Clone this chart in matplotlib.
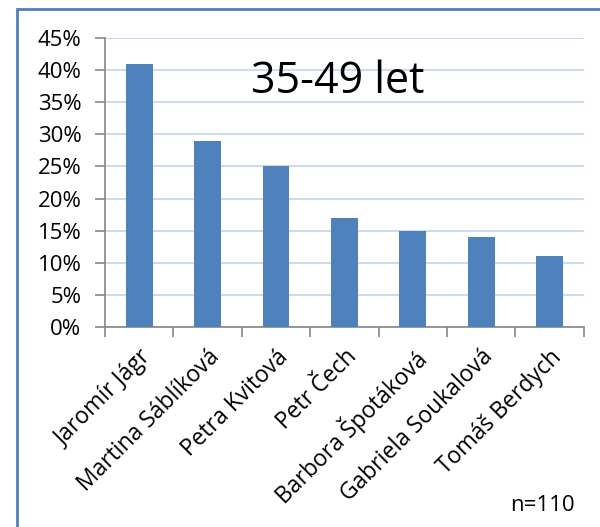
import numpy as np
import matplotlib.pyplot as plt
from matplotlib.patches import Rectangle

names = ["Jaromír Jágr", "Martina Sáblíková", "Petra Kvitová", "Petr Čech",
         "Barbora Špotáková", "Gabriela Soukalová", "Tomáš Berdych"]
pct = [41, 29, 25, 17, 15, 14, 11]
yticks = [0, 5, 10, 15, 20, 25, 30, 35, 40, 45]

plt.rcParams['font.family'] = ['Open Sans', 'DejaVu Sans']

fig = plt.figure(figsize=(6, 5.27), dpi=100)
ax = fig.add_axes([0.175, 0.3795, 0.798, 0.5485])

x = np.arange(len(names))
ax.bar(x, pct, width=0.39, color="#4f81bd", zorder=3)
ax.set_xlim(-0.5, len(names) - 0.5)
ax.set_ylim(0, 45)
ax.set_yticks(yticks)
ax.set_yticklabels([f"{v}%" for v in yticks], fontsize=16)
ax.yaxis.grid(True, color="#c6d9f1", linewidth=1.3, zorder=0)

# ticks on category boundaries, labels centred under bars
ax.set_xticks(np.arange(-0.5, len(names), 1.0))
ax.set_xticklabels([])
ax.set_xticks(x, minor=True)
ax.set_xticklabels(names, minor=True, rotation=45, ha="right",
                   rotation_mode="anchor", fontsize=16.5)
ax.tick_params(axis="x", which="minor", length=0, pad=13)
ax.tick_params(axis="x", which="major", length=7, color="#868686", width=1.2)
ax.tick_params(axis="y", length=7, color="#868686", width=1.2, pad=10)

for s in ["top", "right"]:
    ax.spines[s].set_visible(False)
for s in ["left", "bottom"]:
    ax.spines[s].set_color("#868686")
    ax.spines[s].set_linewidth(1.2)

fig.text(0.562, 0.845, "35-49 let", fontsize=31, ha="center", va="center")
fig.text(0.904, 0.04, "n=110", fontsize=16, ha="center", va="center")

fig.patches.append(Rectangle((17 / 600, -0.1), 1.2, 1 - 9 / 527 + 0.1,
                             transform=fig.transFigure, fill=False,
                             edgecolor="#4f81bd", linewidth=2, clip_on=False))

plt.savefig("out.png", dpi=100)
